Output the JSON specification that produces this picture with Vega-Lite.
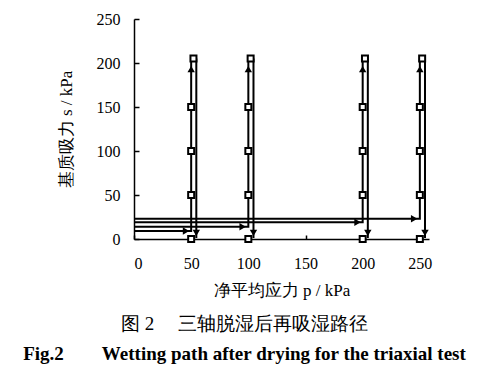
{
  "$schema": "https://vega.github.io/schema/vega-lite/v6.json",
  "autosize": {"type": "none"},
  "width": 295,
  "height": 220,
  "padding": {"left": 134, "top": 19, "right": 54, "bottom": 132},
  "background": "white",
  "config": {
    "view": {"stroke": null},
    "font": "Liberation Serif",
    "axis": {"grid": false, "domainColor": "black", "tickColor": "black", "labelColor": "black", "titleColor": "black", "labelFont": "Liberation Serif", "labelFontSize": 16, "titleFont": "Times New Roman", "titleFontSize": 17, "titleFontWeight": "normal"}
  },
  "title": {
    "text": "图 2 \u2003三轴脱湿后再吸湿路径",
    "subtitle": "Fig.2\u2003\u2003Wetting path after drying for the triaxial test",
    "orient": "bottom",
    "anchor": "middle",
    "dx": -37,
    "offset": 17,
    "font": "Liberation Serif",
    "fontSize": 19,
    "fontWeight": "normal",
    "color": "black",
    "subtitleFont": "Liberation Serif",
    "subtitleFontSize": 19,
    "subtitleFontWeight": "bold",
    "subtitleColor": "black",
    "subtitlePadding": 11
  },
  "datasets": {
    "paths": [
      {"specimen": "A", "o": 1, "p": 0, "s": 9},
      {"specimen": "A", "o": 2, "p": 50, "s": 9},
      {"specimen": "A", "o": 3, "p": 50, "s": 204},
      {"specimen": "A", "o": 4, "p": 54.5, "s": 204},
      {"specimen": "A", "o": 5, "p": 54.5, "s": 1},
      {"specimen": "B", "o": 1, "p": 0, "s": 14},
      {"specimen": "B", "o": 2, "p": 100, "s": 14},
      {"specimen": "B", "o": 3, "p": 100, "s": 204},
      {"specimen": "B", "o": 4, "p": 104.5, "s": 204},
      {"specimen": "B", "o": 5, "p": 104.5, "s": 1},
      {"specimen": "C", "o": 1, "p": 0, "s": 19},
      {"specimen": "C", "o": 2, "p": 200, "s": 19},
      {"specimen": "C", "o": 3, "p": 200, "s": 204},
      {"specimen": "C", "o": 4, "p": 204.5, "s": 204},
      {"specimen": "C", "o": 5, "p": 204.5, "s": 1},
      {"specimen": "D", "o": 1, "p": 0, "s": 23},
      {"specimen": "D", "o": 2, "p": 250, "s": 23},
      {"specimen": "D", "o": 3, "p": 250, "s": 204},
      {"specimen": "D", "o": 4, "p": 254.5, "s": 204},
      {"specimen": "D", "o": 5, "p": 254.5, "s": 1}
    ],
    "arrows": [
      {"p": 45.5, "s": 9, "dir": "right"},
      {"p": 95, "s": 14, "dir": "right"},
      {"p": 195.5, "s": 19, "dir": "right"},
      {"p": 245, "s": 23, "dir": "right"},
      {"p": 50, "s": 193, "dir": "up"},
      {"p": 100, "s": 193, "dir": "up"},
      {"p": 200, "s": 193, "dir": "up"},
      {"p": 250, "s": 193, "dir": "up"},
      {"p": 54.5, "s": 7, "dir": "down"},
      {"p": 104.5, "s": 7, "dir": "down"},
      {"p": 204.5, "s": 7, "dir": "down"},
      {"p": 254.5, "s": 7, "dir": "down"}
    ],
    "points": [
      {"p": 50, "s": 0}, {"p": 50, "s": 50}, {"p": 50, "s": 100}, {"p": 50, "s": 150}, {"p": 52, "s": 205},
      {"p": 100, "s": 0}, {"p": 100, "s": 50}, {"p": 100, "s": 100}, {"p": 100, "s": 150}, {"p": 102, "s": 205},
      {"p": 200, "s": 0}, {"p": 200, "s": 50}, {"p": 200, "s": 100}, {"p": 200, "s": 150}, {"p": 202, "s": 205},
      {"p": 250, "s": 0}, {"p": 250, "s": 50}, {"p": 250, "s": 100}, {"p": 250, "s": 150}, {"p": 252, "s": 205}
    ]
  },
  "layer": [
    {
      "data": {"name": "paths"},
      "mark": {"type": "line", "color": "black", "strokeWidth": 2, "clip": false},
      "encoding": {
        "x": {"field": "p", "type": "quantitative", "scale": {"domain": [0, 258], "nice": false}, "axis": {"values": [0, 50, 100, 150, 200, 250], "title": "净平均应力 p / kPa", "tickSize": -4, "labelPadding": 20, "titlePadding": 11, "domainWidth": 1.5, "tickWidth": 1.5}},
        "y": {"field": "s", "type": "quantitative", "scale": {"domain": [0, 250], "nice": false}, "axis": {"values": [0, 50, 100, 150, 200, 250], "title": "基质吸力 s / kPa", "tickSize": -5, "labelPadding": 19, "titlePadding": 21, "domainWidth": 1.5, "tickWidth": 1.5}},
        "detail": {"field": "specimen"},
        "order": {"field": "o"}
      }
    },
    {
      "data": {"name": "arrows"},
      "mark": {"type": "point", "filled": true, "color": "black", "size": 55, "opacity": 1},
      "encoding": {
        "x": {"field": "p", "type": "quantitative"},
        "y": {"field": "s", "type": "quantitative"},
        "shape": {"field": "dir", "type": "nominal", "scale": {"domain": ["right", "up", "down"], "range": ["triangle-right", "triangle-up", "triangle-down"]}, "legend": null}
      }
    },
    {
      "data": {"name": "points"},
      "mark": {"type": "point", "shape": "square", "filled": true, "fill": "white", "stroke": "black", "strokeWidth": 2, "size": 36, "opacity": 1},
      "encoding": {
        "x": {"field": "p", "type": "quantitative"},
        "y": {"field": "s", "type": "quantitative"}
      }
    }
  ]
}
